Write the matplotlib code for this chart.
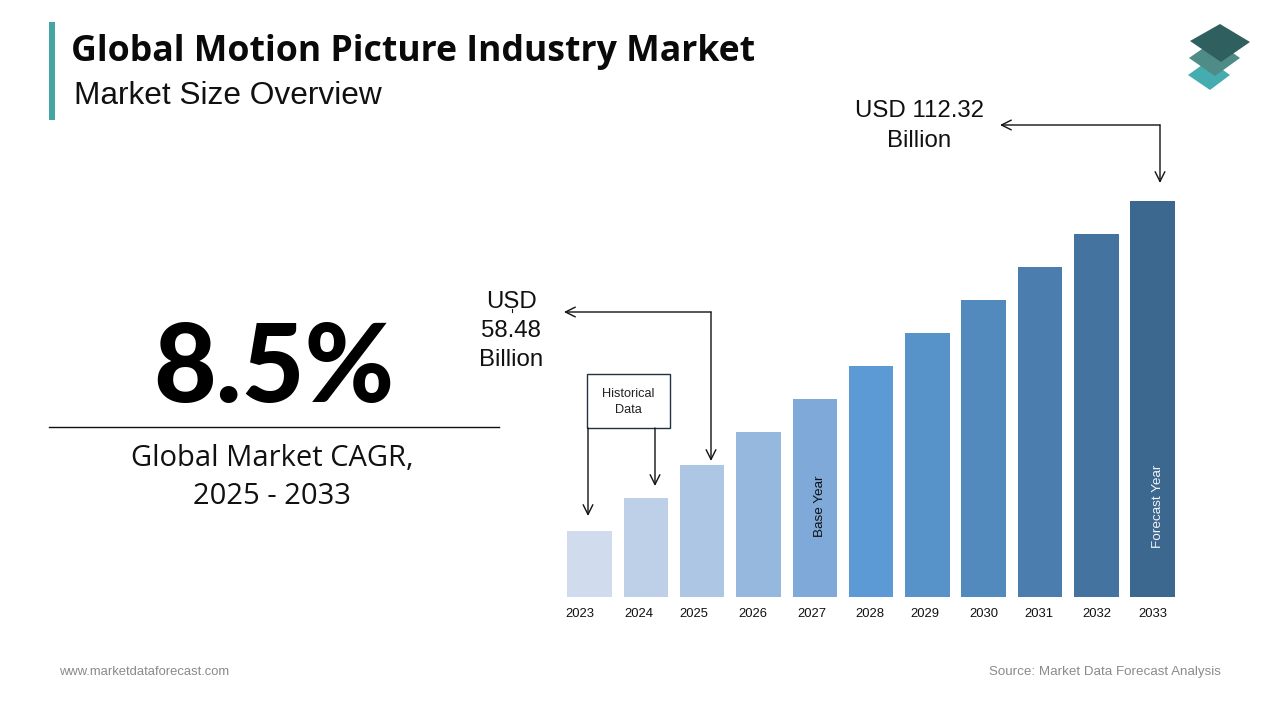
import matplotlib
matplotlib.use('Agg')
import matplotlib.pyplot as plt
from matplotlib.patches import Polygon, Rectangle

years = [2023, 2024, 2025, 2026, 2027, 2028, 2029, 2030, 2031, 2032, 2033]
# heights, scaled so the last bar is 112.32
values = [18.7, 28.1, 37.4, 46.8, 56.2, 65.5, 74.9, 84.2, 93.6, 103.0, 112.32]
bar_colors = ['#D0DCED', '#BDD0E8', '#ADC6E3', '#97B8DE', '#7EA9D8', '#5C9AD5',
              '#5792C8', '#528ABD', '#4B7EAF', '#44739F', '#3C678F']
# year labels are not quite centred under the bars in the original
label_shift = [-0.17, -0.13, -0.14, -0.10, -0.06, -0.02, -0.04, 0.0, -0.02, 0.01, 0.0]

fig = plt.figure(figsize=(12.8, 7.2), dpi=100, facecolor='white')

# bar chart, axes placed in figure pixels
left, right, bottom, top = 561.35, 1180.8, 597, 150
ax = fig.add_axes([left / 1280, 1 - bottom / 720, (right - left) / 1280, (bottom - top) / 720])
ax.bar(years, values, width=0.79, color=bar_colors)
ax.set_xlim(2022.5, 2033.5)
ax.set_ylim(0, 126.8)
ax.set_xticks([y + s for y, s in zip(years, label_shift)])
ax.set_xticklabels(years, fontsize=9.4, family='Liberation Sans', color='#111111')
ax.tick_params(axis='x', length=0, pad=8)
ax.set_yticks([])
for s in ax.spines.values():
    s.set_visible(False)
ax.patch.set_alpha(0)

ax.text(2027.1, 25.7, 'Base Year', rotation=90, ha='center', va='center', fontsize=9.7,
        family='Liberation Sans', color='#111111')
ax.text(2033.1, 25.7, 'Forecast Year', rotation=90, ha='center', va='center', fontsize=9.7,
        family='Liberation Sans', color='#F2F5F8')

# overlay in pixel coordinates for everything around the chart
ov = fig.add_axes([0, 0, 1, 1])
ov.set_xlim(0, 1280)
ov.set_ylim(720, 0)
ov.axis('off')
ov.patch.set_alpha(0)

ov.add_patch(Rectangle((49, 22), 6, 98, color='#45A5A5', lw=0))
ov.text(71, 52, 'Global Motion Picture Industry Market', fontsize=25.65, fontweight='bold',
        family='Open Sans', color='#0A0A0A', va='center', ha='left')
ov.text(74, 96, 'Market Size Overview', fontsize=22.8, family='Liberation Sans',
        color='#111111', va='center', ha='left')

ov.text(274, 402, '8.5%', fontsize=78, fontweight=900, family='Lato',
        color='black', ha='center', va='baseline')
ov.plot([49, 499], [427, 427], color='#111111', lw=1)
ov.text(272, 458, 'Global Market CAGR,', fontsize=21, family='Open Sans', color='#111111',
        ha='center', va='center')
ov.text(272, 497, '2025 - 2033', fontsize=21, family='Open Sans', color='#111111',
        ha='center', va='center')

# logo
ov.add_patch(Polygon([(1209, 60), (1230, 75), (1210, 90), (1188, 75)], color='#45ADAF', lw=0))
ov.add_patch(Polygon([(1215, 40), (1240, 58), (1215, 76), (1189, 58)], color='#4F8C88', lw=0))
ov.add_patch(Polygon([(1220, 24), (1250, 42), (1221, 62), (1190, 41)], color='#2F5F5E', lw=0))


def arrow(points):
    # polyline with an open arrow head on the last segment
    xs, ys = zip(*points[:-1])
    ov.plot(xs, ys, color='#111111', lw=1)
    ov.annotate('', xy=points[-1], xytext=points[-2],
                arrowprops=dict(arrowstyle='->,head_length=0.7,head_width=0.35',
                                color='#111111', lw=1, shrinkA=0, shrinkB=0))


arrow([(1160, 125), (1160, 183)])
arrow([(1160, 125), (1000, 125)])
arrow([(711, 312), (711, 461)])
arrow([(711, 312), (564, 312)])
arrow([(588, 428), (588, 516)])
arrow([(655, 428), (655, 486)])

ov.add_patch(Rectangle((587, 374), 82.5, 54, fill=False, ec='#1F3344', lw=1))
ov.text(628, 402, 'Historical\nData', fontsize=9.2, family='Liberation Sans', color='#222222',
        ha='center', va='center', linespacing=1.35)

ov.text(919.5, 126, 'USD 112.32\nBillion', fontsize=17.3, family='Liberation Sans',
        color='#111111', ha='center', va='center', linespacing=1.42)
ov.text(511, 331, 'USD\n58.48\nBillion', fontsize=17.3, family='Liberation Sans',
        color='#111111', ha='center', va='center', linespacing=1.4)
ov.plot([511.5, 511.5], [309, 312], color='#111111', lw=0.8)

ov.text(59, 675, 'www.marketdataforecast.com', fontsize=9.4, family='Liberation Sans',
        color='#8A8A8A', ha='left', va='baseline')
ov.text(1221, 675, 'Source: Market Data Forecast Analysis', fontsize=9.65, family='Liberation Sans',
        color='#8A8A8A', ha='right', va='baseline')

fig.savefig('out.png', dpi=100)
